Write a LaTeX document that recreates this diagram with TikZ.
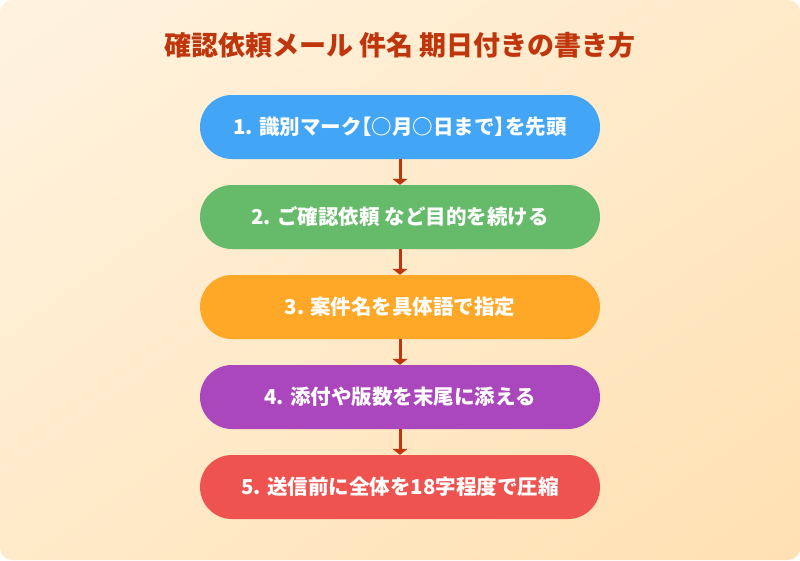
\documentclass[tikz,border=0pt]{standalone}
\usepackage{fontspec}
\setmainfont{Noto Sans CJK JP}
\usetikzlibrary{arrows.meta}
\usetikzlibrary{shadings}
\definecolor{bgA}{HTML}{FFF3E0}
\definecolor{bgB}{HTML}{FFE0B2}
\definecolor{bgM}{HTML}{FFEAC9}
\definecolor{titlecol}{HTML}{BF360C}
\definecolor{arrcol}{HTML}{BF360C}
\definecolor{cA}{HTML}{42A5F5}
\definecolor{cB}{HTML}{66BB6A}
\definecolor{cC}{HTML}{FFA726}
\definecolor{cD}{HTML}{AB47BC}
\definecolor{cE}{HTML}{EF5350}
\newcommand{\hw}[1]{{\addfontfeature{RawFeature=+halt}#1}}
\begin{document}
\begin{tikzpicture}[x=1pt,y=-1pt]
    \tikzstyle{step box}=[rounded corners=32pt,minimum width=400pt,minimum height=64pt,inner sep=0pt,text=white,font=\bfseries\fontsize{20.5}{24}\selectfont]
    \tikzstyle{edge}=[draw=arrcol,line width=3pt,-{Triangle[width=15pt,length=6pt]}]

    \def\X{400}

    \useasboundingbox (0,0) rectangle (800,560);
    \shade[rounded corners=12pt,upper left=bgA,upper right=bgM,lower left=bgM,lower right=bgB] (0,0) rectangle (800,560);

    \node[text=titlecol,font=\bfseries\fontsize{27}{30}\selectfont] (title) at (\X,45) {確認依頼メール 件名 期日付きの書き方};

    \node[step box,fill=cA] (s1) at (\X,127) {1. 識別マーク\hw{【}○月○日まで\hw{】}を先頭};
    \node[step box,fill=cB] (s2) at (\X,217) {2. ご確認依頼 など目的を続ける};
    \node[step box,fill=cC] (s3) at (\X,307) {3. 案件名を具体語で指定};
    \node[step box,fill=cD] (s4) at (\X,397) {4. 添付や版数を末尾に添える};
    \node[step box,fill=cE] (s5) at (\X,487) {5. 送信前に全体を18字程度で圧縮};

    \path[edge] (s1) -- (s2);
    \path[edge] (s2) -- (s3);
    \path[edge] (s3) -- (s4);
    \path[edge] (s4) -- (s5);
\end{tikzpicture}
\end{document}
